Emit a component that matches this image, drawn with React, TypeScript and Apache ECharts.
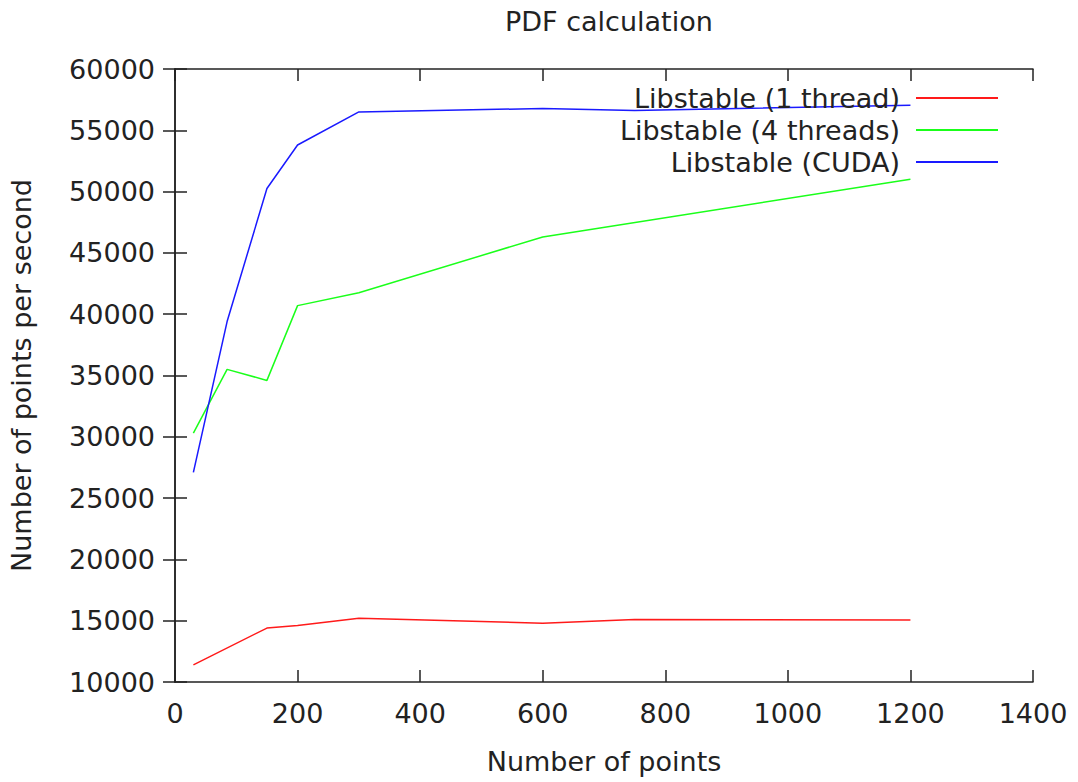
import React, { useEffect, useRef } from "react";
import * as echarts from "echarts";

const titleText = "PDF calculation";
const xName = "Number of points";
const yName = "Number of points per second";

const seriesNames = ["Libstable (1 thread)", "Libstable (4 threads)", "Libstable (CUDA)"];
const seriesColors = ["#ff1a1a", "#1aff1a", "#1a1aff"];

const oneThreadX = [30, 150, 200, 300, 600, 750, 1200];
const oneThreadY = [11400, 14400, 14600, 15200, 14800, 15100, 15050];

const fourThreadsX = [30, 85, 150, 200, 300, 600, 1200];
const fourThreadsY = [30300, 35500, 34600, 40700, 41750, 46300, 51000];

const cudaX = [30, 85, 150, 200, 300, 600, 750, 1200];
const cudaY = [27100, 39400, 50250, 53800, 56500, 56780, 56620, 57050];

const FONT = "DejaVu Sans";

function pairs(xs: number[], ys: number[]) {
  return xs.map((x, i) => [x, ys[i]]);
}

export default function App() {
  const ref = useRef<HTMLDivElement>(null);
  useEffect(() => {
    if (!ref.current) return;
    const chart = echarts.init(ref.current, undefined, { renderer: "svg" });
    const axisLineStyle = { color: "#222", width: 1.5 };
    const labelStyle = { color: "#222", fontSize: 27, fontFamily: FONT };
    const fmt = (v: number) => String(v);
    const dataSets = [pairs(oneThreadX, oneThreadY), pairs(fourThreadsX, fourThreadsY), pairs(cudaX, cudaY)];
    chart.setOption({
      animation: false,
      backgroundColor: "#ffffff",
      title: {
        text: titleText,
        left: 500,
        top: 3,
        textStyle: { fontSize: 27, fontWeight: "normal", color: "#222", fontFamily: FONT },
      },
      grid: { left: 175, right: 45, top: 69, bottom: 100, show: false, containLabel: false },
      legend: {
        orient: "vertical",
        align: "right",
        right: 80,
        top: 82,
        padding: 0,
        itemGap: 0,
        itemWidth: 82,
        itemHeight: 2,
        icon: "rect",
        textStyle: { fontSize: 27, fontFamily: FONT, color: "#222", lineHeight: 32, padding: [0, 11, 0, 0] },
        data: seriesNames,
      },
      xAxis: [
        {
          type: "value",
          position: "bottom",
          min: 0,
          max: 1400,
          interval: 200,
          name: xName,
          nameLocation: "middle",
          nameGap: 66,
          nameTextStyle: labelStyle,
          axisLine: { show: true, lineStyle: axisLineStyle },
          axisTick: { show: true, inside: true, length: 12, lineStyle: axisLineStyle },
          axisLabel: { ...labelStyle, margin: 18, formatter: fmt },
          splitLine: { show: false },
        },
        {
          type: "value",
          position: "top",
          min: 0,
          max: 1400,
          interval: 200,
          axisLine: { show: true, lineStyle: axisLineStyle },
          axisTick: { show: true, inside: true, length: 12, lineStyle: axisLineStyle },
          axisLabel: { show: false },
          splitLine: { show: false },
        },
      ],
      yAxis: [
        {
          type: "value",
          position: "left",
          min: 10000,
          max: 60000,
          interval: 5000,
          name: yName,
          nameLocation: "middle",
          nameGap: 140,
          nameTextStyle: labelStyle,
          axisLine: { show: true, lineStyle: axisLineStyle },
          axisTick: { show: true, inside: true, length: 12, lineStyle: axisLineStyle },
          axisLabel: { ...labelStyle, margin: 20, formatter: fmt },
          splitLine: { show: false },
        },
        {
          type: "value",
          position: "right",
          min: 10000,
          max: 60000,
          interval: 5000,
          axisLine: { show: true, lineStyle: axisLineStyle },
          axisTick: { show: true, inside: true, length: 12, lineStyle: axisLineStyle },
          axisLabel: { show: false },
          splitLine: { show: false },
        },
      ],
      series: seriesNames.map((name, i) => ({
        name,
        type: "line",
        xAxisIndex: 0,
        yAxisIndex: 0,
        data: dataSets[i],
        showSymbol: false,
        symbol: "none",
        lineStyle: { color: seriesColors[i], width: 1.5 },
        itemStyle: { color: seriesColors[i] },
      })),
    });
    return () => chart.dispose();
  }, []);
  return (
    <div
      ref={ref}
      style={{ position: "fixed", left: 0, top: 0, width: 1078, height: 782, background: "#fff" }}
    />
  );
}
